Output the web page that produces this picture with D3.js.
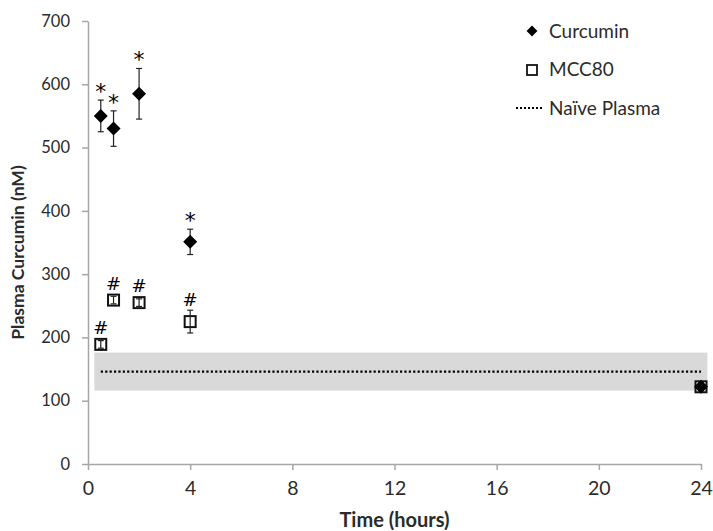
<!DOCTYPE html>
<html>
<head>
<meta charset="utf-8">
<script src="https://cdn.jsdelivr.net/npm/d3@7"></script>
<style>
  html, body { margin: 0; padding: 0; background: #fff; }
  svg { display: block; font-family: Lato, "Open Sans", sans-serif; }
</style>
</head>
<body>
<svg id="chart" width="713" height="531"></svg>
<script>
// Sampling times (hours)
const times = [0.5, 1, 2, 4, 24];

// Curcumin group: mean plasma curcumin (nM) and error
const curcuminMean = [550, 530, 585, 351, 122];
const curcuminErr  = [25, 28, 40, 20, 6];
const curcuminMark = ["*", "*", "*", "*", ""];

// MCC80 group
const mccMean = [189, 259, 255, 225, 122];
const mccErr  = [6, 6, 6, 18, 6];
const mccMark = ["#", "#", "#", "#", ""];

// Naive plasma reference level and its range
const naiveMean = 146;
const naiveLow = 116;
const naiveHigh = 176;
const naiveSpan = [0.5, 24];
const bandSpan = [0.25, 24.25];

const xTicks = [0, 4, 8, 12, 16, 20, 24];
const yTicks = [0, 100, 200, 300, 400, 500, 600, 700];

const legendItems = ["Curcumin", "MCC80", "Naïve Plasma"];

const svg = d3.select("#chart");
const margin = { left: 88, right: 12, top: 21, bottom: 67 };
const W = 713, H = 531;

const x = d3.scaleLinear().domain([0, 24]).range([margin.left, W - margin.right]);
const y = d3.scaleLinear().domain([0, 700]).range([H - margin.bottom, margin.top]);

const axisColor = "#a6a6a6";
const textColor = "#2b2b2b";

// Naive plasma band and dotted mean line
svg.append("rect")
  .attr("x", x(bandSpan[0]))
  .attr("y", y(naiveHigh))
  .attr("width", x(bandSpan[1]) - x(bandSpan[0]))
  .attr("height", y(naiveLow) - y(naiveHigh))
  .attr("fill", "#d9d9d9");

svg.append("line")
  .attr("x1", x(naiveSpan[0])).attr("x2", x(naiveSpan[1]))
  .attr("y1", y(naiveMean)).attr("y2", y(naiveMean))
  .attr("stroke", "#000").attr("stroke-width", 2.2)
  .attr("stroke-dasharray", "2.2,2.2");

// Axes
const xAxis = d3.axisBottom(x).tickValues(xTicks).tickSize(6).tickSizeOuter(0).tickPadding(11);
const yAxis = d3.axisLeft(y).tickValues(yTicks).tickSize(6).tickSizeOuter(0).tickPadding(12);

const gx = svg.append("g").attr("transform", `translate(0,${y(0)})`).call(xAxis);
const gy = svg.append("g").attr("transform", `translate(${x(0)},0)`).call(yAxis);

[gx, gy].forEach(g => {
  g.select(".domain").attr("stroke", axisColor).attr("stroke-width", 1.5);
  g.selectAll(".tick line").attr("stroke", axisColor).attr("stroke-width", 1.5);
  g.selectAll(".tick text").attr("fill", textColor)
    .attr("font-family", "Lato, 'Open Sans', sans-serif");
});
gx.selectAll(".tick text").attr("font-size", 19.5);
gy.selectAll(".tick text").attr("font-size", 16.5);

// Axis titles
svg.append("text")
  .attr("x", (x(0) + x(24)) / 2).attr("y", 527)
  .attr("text-anchor", "middle")
  .attr("font-size", 20).attr("font-weight", "bold").attr("fill", textColor)
  .text("Time (hours)");

svg.append("text")
  .attr("transform", `translate(24,${(y(0) + y(700)) / 2 + 10}) rotate(-90)`)
  .attr("text-anchor", "middle")
  .attr("font-size", 17.5).attr("font-weight", "bold").attr("fill", textColor)
  .text("Plasma Curcumin (nM)");

// Data
const curcumin = times.map((t, i) => ({ t, m: curcuminMean[i], e: curcuminErr[i], mark: curcuminMark[i] }));
const mcc = times.map((t, i) => ({ t, m: mccMean[i], e: mccErr[i], mark: mccMark[i] }));

function errorBars(data, color) {
  const g = svg.append("g").attr("stroke", color).attr("stroke-width", 1.2);
  data.forEach(d => {
    const cx = x(d.t);
    g.append("line").attr("x1", cx).attr("x2", cx).attr("y1", y(d.m + d.e)).attr("y2", y(d.m - d.e));
    g.append("line").attr("x1", cx - 3).attr("x2", cx + 3).attr("y1", y(d.m + d.e)).attr("y2", y(d.m + d.e));
    g.append("line").attr("x1", cx - 3).attr("x2", cx + 3).attr("y1", y(d.m - d.e)).attr("y2", y(d.m - d.e));
  });
}

// MCC80: open squares
svg.append("g").selectAll("rect").data(mcc).join("rect")
  .attr("x", d => x(d.t) - 5.5).attr("y", d => y(d.m) - 5.5)
  .attr("width", 11).attr("height", 11)
  .attr("fill", "#fff").attr("stroke", "#111").attr("stroke-width", 2);
errorBars(mcc, "#222");

// Curcumin: filled diamonds
const diamond = d3.symbol().type(d3.symbolDiamond2).size(125);
errorBars(curcumin, "#222");
svg.append("g").selectAll("path").data(curcumin).join("path")
  .attr("d", diamond)
  .attr("transform", d => `translate(${x(d.t)},${y(d.m)})`)
  .attr("fill", "#000");

// Significance markers above the error bars
svg.append("g").selectAll("text").data(curcumin.filter(d => d.mark)).join("text")
  .attr("x", d => x(d.t)).attr("y", d => y(d.m + d.e) - 14)
  .attr("dy", "0.58em")
  .attr("text-anchor", "middle").attr("font-size", 22)
  .attr("font-family", "'DejaVu Sans', sans-serif").attr("fill", "#000")
  .text(d => d.mark);

svg.append("g").selectAll("text").data(mcc.filter(d => d.mark)).join("text")
  .attr("x", d => x(d.t)).attr("y", d => Math.min(y(d.m + d.e), y(d.m) - 6) - 11)
  .attr("dy", "0.36em")
  .attr("text-anchor", "middle").attr("font-size", 18)
  .attr("font-family", "'DejaVu Sans', sans-serif").attr("fill", "#000")
  .text(d => d.mark);

// Legend
const lg = svg.append("g").attr("transform", "translate(532,0)");
lg.append("path").attr("d", d3.symbol().type(d3.symbolDiamond2).size(75))
  .attr("transform", "translate(0,31)").attr("fill", "#000");
lg.append("rect").attr("x", -5).attr("y", 65).attr("width", 10).attr("height", 10)
  .attr("fill", "#fff").attr("stroke", "#111").attr("stroke-width", 1.8);
lg.append("line").attr("x1", -16).attr("x2", 10).attr("y1", 108).attr("y2", 108)
  .attr("stroke", "#000").attr("stroke-width", 2).attr("stroke-dasharray", "2,2");
lg.selectAll("text").data(legendItems).join("text")
  .attr("x", 17).attr("y", (d, i) => 31 + i * 38.5)
  .attr("dy", "0.35em")
  .attr("font-size", 19).attr("fill", textColor)
  .text(d => d);
</script>
</body>
</html>
